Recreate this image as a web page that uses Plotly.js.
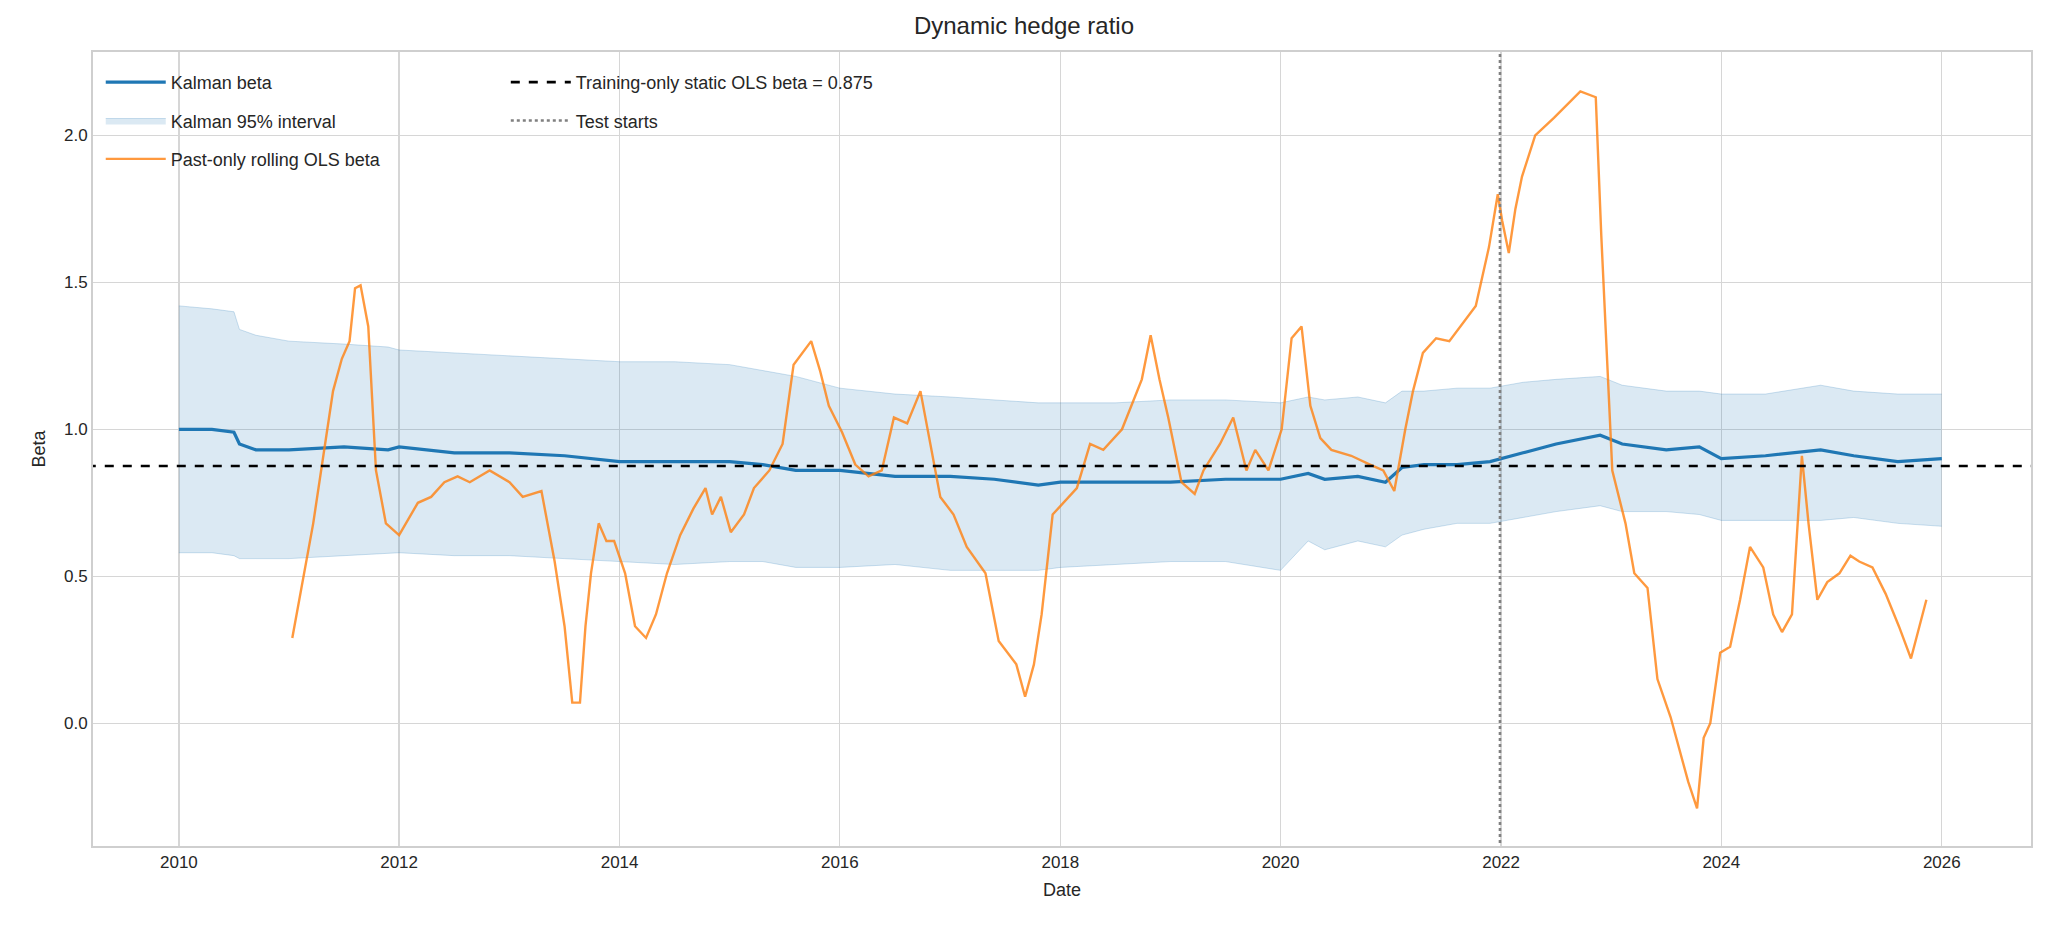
<!DOCTYPE html>
<html><head><meta charset="utf-8">
<script src="https://cdn.plot.ly/plotly-3.0.1.min.js"></script>
<style>body{margin:0;background:#fff}#c{width:2048px;height:928px}</style>
</head><body><div id="c"></div>
<script>
// decimal-year positions and values
const kalmanT = [2010.0,2010.3,2010.5,2010.55,2010.7,2011.0,2011.5,2011.9,2012.0,2012.5,2013.0,2013.5,2014.0,2014.5,2015.0,2015.3,2015.6,2016.0,2016.5,2017.0,2017.4,2017.8,2018.0,2018.5,2019.0,2019.5,2020.0,2020.25,2020.4,2020.7,2020.95,2021.1,2021.3,2021.6,2021.9,2022.2,2022.5,2022.9,2023.1,2023.5,2023.8,2024.0,2024.4,2024.9,2025.2,2025.6,2026.0];
const kalmanBeta = [1.00,1.00,0.99,0.95,0.93,0.93,0.94,0.93,0.94,0.92,0.92,0.91,0.89,0.89,0.89,0.88,0.86,0.86,0.84,0.84,0.83,0.81,0.82,0.82,0.82,0.83,0.83,0.85,0.83,0.84,0.82,0.87,0.88,0.88,0.89,0.92,0.95,0.98,0.95,0.93,0.94,0.90,0.91,0.93,0.91,0.89,0.90];
const bandUpper = [1.42,1.41,1.40,1.34,1.32,1.30,1.29,1.28,1.27,1.26,1.25,1.24,1.23,1.23,1.22,1.20,1.18,1.14,1.12,1.11,1.10,1.09,1.09,1.09,1.10,1.10,1.09,1.11,1.10,1.11,1.09,1.13,1.13,1.14,1.14,1.16,1.17,1.18,1.15,1.13,1.13,1.12,1.12,1.15,1.13,1.12,1.12];
const bandLower = [0.58,0.58,0.57,0.56,0.56,0.56,0.57,0.58,0.58,0.57,0.57,0.56,0.55,0.54,0.55,0.55,0.53,0.53,0.54,0.52,0.52,0.52,0.53,0.54,0.55,0.55,0.52,0.62,0.59,0.62,0.60,0.64,0.66,0.68,0.68,0.70,0.72,0.74,0.72,0.72,0.71,0.69,0.69,0.69,0.70,0.68,0.67];
const olsT = [2011.03,2011.22,2011.40,2011.48,2011.55,2011.60,2011.65,2011.72,2011.79,2011.88,2012.0,2012.17,2012.29,2012.41,2012.53,2012.64,2012.82,2013.0,2013.12,2013.29,2013.41,2013.50,2013.57,2013.64,2013.69,2013.74,2013.81,2013.88,2013.95,2014.05,2014.14,2014.24,2014.33,2014.43,2014.55,2014.67,2014.78,2014.84,2014.92,2015.01,2015.13,2015.22,2015.36,2015.48,2015.58,2015.66,2015.74,2015.82,2015.90,2016.02,2016.14,2016.26,2016.38,2016.49,2016.61,2016.73,2016.81,2016.91,2017.03,2017.15,2017.32,2017.44,2017.60,2017.68,2017.76,2017.83,2017.93,2018.03,2018.15,2018.27,2018.39,2018.56,2018.74,2018.82,2018.90,2018.98,2019.10,2019.22,2019.30,2019.45,2019.57,2019.69,2019.77,2019.89,2020.01,2020.10,2020.19,2020.27,2020.36,2020.46,2020.64,2020.81,2020.93,2021.03,2021.13,2021.20,2021.29,2021.41,2021.53,2021.77,2021.89,2021.97,2022.01,2022.07,2022.13,2022.19,2022.31,2022.48,2022.72,2022.86,2022.91,2023.01,2023.13,2023.21,2023.33,2023.42,2023.54,2023.70,2023.78,2023.84,2023.90,2023.99,2024.08,2024.17,2024.26,2024.38,2024.47,2024.55,2024.64,2024.73,2024.79,2024.87,2024.96,2025.07,2025.17,2025.25,2025.37,2025.49,2025.61,2025.72,2025.86,2026.0];
const olsBeta = [0.29,0.68,1.13,1.24,1.30,1.48,1.49,1.35,0.86,0.68,0.64,0.75,0.77,0.82,0.84,0.82,0.86,0.82,0.77,0.79,0.55,0.33,0.07,0.07,0.33,0.51,0.68,0.62,0.62,0.51,0.33,0.29,0.37,0.51,0.64,0.73,0.80,0.71,0.77,0.65,0.71,0.80,0.86,0.95,1.22,1.26,1.30,1.20,1.08,0.99,0.88,0.84,0.86,1.04,1.02,1.13,0.97,0.77,0.71,0.60,0.51,0.28,0.20,0.09,0.20,0.37,0.71,0.75,0.80,0.95,0.93,1.00,1.17,1.32,1.17,1.04,0.82,0.78,0.86,0.95,1.04,0.86,0.93,0.86,1.00,1.31,1.35,1.08,0.97,0.93,0.91,0.88,0.86,0.79,1.00,1.13,1.26,1.31,1.30,1.42,1.62,1.80,1.71,1.60,1.75,1.86,2.00,2.06,2.15,2.13,1.66,0.86,0.68,0.51,0.46,0.15,0.02,-0.20,-0.29,-0.05,0.00,0.24,0.26,0.42,0.60,0.53,0.37,0.31,0.37,0.91,0.68,0.42,0.48,0.51,0.57,0.55,0.53,0.44,0.33,0.22,0.42];
const staticBeta = 0.875;
const testStart = 2021.99;
const xTicks = [2010,2012,2014,2016,2018,2020,2022,2024,2026];

function toDate(y){const yr=Math.floor(y);const a=Date.UTC(yr,0,1),b=Date.UTC(yr+1,0,1);return new Date(a+(y-yr)*(b-a)).toISOString();}
const kx = kalmanT.map(toDate), ox = olsT.map(toDate);

const traces = [
 {x:kx,y:bandLower,mode:'lines',line:{width:1,color:'rgba(31,119,180,0.22)'},showlegend:false,hoverinfo:'skip',legendgroup:'b'},
 {x:kx,y:bandUpper,mode:'lines',fill:'tonexty',fillcolor:'rgba(31,119,180,0.16)',line:{width:1,color:'rgba(31,119,180,0.22)'},name:'Kalman 95% interval',legend:'legend',legendgroup:'b',legendrank:2},
 {x:kx,y:kalmanBeta,mode:'lines',line:{width:3.2,color:'#1f77b4'},name:'Kalman beta',legend:'legend',legendgroup:'a',legendrank:1},
 {x:ox,y:olsBeta,mode:'lines',line:{width:2.4,color:'rgba(255,127,14,0.8)'},name:'Past-only rolling OLS beta',legend:'legend',legendgroup:'c',legendrank:3},
 {x:[toDate(2009.0),toDate(2027.0)],y:[staticBeta,staticBeta],mode:'lines',line:{width:2.6,color:'#000',dash:'dash'},name:'Training-only static OLS beta = '+staticBeta,legend:'legend2',legendgroup:'d',legendrank:1},
 {x:[toDate(testStart),toDate(testStart)],y:[-1,3],mode:'lines',line:{width:2.6,color:'#808080',dash:'dot'},name:'Test starts',legend:'legend2',legendgroup:'e',legendrank:2}
];
const ax = {showgrid:true,gridcolor:'#d6d6d6',gridwidth:1.3,showline:true,mirror:true,linecolor:'#cfcfcf',linewidth:2,zeroline:false,ticks:'',tickfont:{size:17,color:'#262626'}};
const legBase = {bgcolor:'rgba(0,0,0,0)',font:{size:18,color:'#262626'},yanchor:'top',y:0.985,xanchor:'left',traceorder:'grouped',tracegroupgap:12,itemwidth:60};
const layout = {
 width:2048,height:928,paper_bgcolor:'#fff',plot_bgcolor:'#fff',
 font:{family:'Liberation Sans, Arial, sans-serif',color:'#262626'},
 margin:{l:93,r:17,t:52,b:82},
 title:{text:'Dynamic hedge ratio',font:{size:24,color:'#262626'},x:0.5,xanchor:'center',y:0.972,yanchor:'middle'},
 xaxis:Object.assign({},ax,{type:'date',range:[toDate(2009.22),toDate(2026.81)],tickvals:xTicks.map(toDate),ticktext:xTicks.map(String),title:{text:'Date',font:{size:18},standoff:12}}),
 yaxis:Object.assign({},ax,{range:[-0.418,2.284],tickvals:[0,0.5,1,1.5,2],ticktext:['0.0','0.5','1.0','1.5','2.0'],title:{text:'Beta',font:{size:18},standoff:14}}),
 legend:Object.assign({},legBase,{x:0.004}),
 legend2:Object.assign({},legBase,{x:0.213}),
 showlegend:true
};
Plotly.newPlot('c',traces,layout,{displayModeBar:false,staticPlot:true});
</script></body></html>
